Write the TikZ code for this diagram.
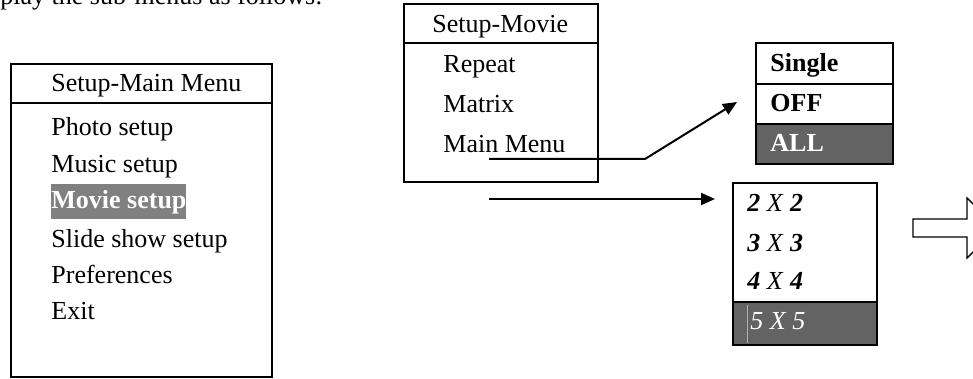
\documentclass[tikz,border=0pt]{standalone}
\usepackage{fontspec}
\setmainfont{Liberation Serif}
\usepackage{xcolor}
\definecolor{Col1}{RGB}{128,128,128}
\definecolor{Col2}{RGB}{99,99,99}
\definecolor{Col3}{RGB}{175,175,175}
\usepackage{tikz}
\usetikzlibrary{arrows.meta}
\tikzstyle{Box}=[draw=black,line width=1pt]
\tikzstyle{Item}=[anchor=base west,inner sep=0pt,font=\fontsize{13pt}{15pt}\selectfont]
\tikzstyle{ItemHi}=[Item,fill=Col1,text=white,text height=12.5pt,text depth=5pt,
font=\fontsize{13pt}{15pt}\selectfont\bfseries]
\tikzstyle{Edge}=[draw=black,line width=1pt,-{Triangle[length=7pt,width=6pt]}]
\tikzstyle{OpenArrow}=[draw=black,line width=0.7pt,fill=white,line join=miter]
\newcommand{\Mx}[1]{\textbf{\textit{#1}} \textit{X} \textbf{\textit{#1}}}

\begin{document}
\begin{tikzpicture}[x=0.5pt,y=-0.5pt]
        \useasboundingbox(0,0)rectangle(973,379);
        \node[Item](intro)at(0,5){play the sub-menus as follows:};
        % main menu
        \draw[Box](11,64)rectangle(272,377);
        \draw[Box](11,103)--(272,103);
        \node[Item](mhead)at(51,92){Setup-Main Menu};
        \node[Item](photo)at(51,136){Photo setup};
        \node[Item](music)at(51,173){Music setup};
        \node[ItemHi](movie)at(51,209){Movie setup};
        \node[Item](slide)at(51,247){Slide show setup};
        \node[Item](pref)at(51,283){Preferences};
        \node[Item](exit)at(51,319){Exit};
        % movie menu
        \draw[Box](404,4)rectangle(598,182);
        \draw[Box](404,43)--(598,43);
        \node[Item](vhead)at(432,33){Setup-Movie};
        \node[Item](repeat)at(443,73){Repeat};
        \node[Item](matrix)at(443,113){Matrix};
        \node[Item](back)at(443,153){Main Menu};
        % repeat choices
        \fill[Col2](756,124)rectangle(893,164);
        \draw[Box](756,43)rectangle(893,164);
        \draw[Box](756,84)--(893,84);
        \draw[Box](756,124)--(893,124);
        \node[Item](single)at(770,72){\textbf{Single}};
        \node[Item](off)at(770,112){\textbf{OFF}};
        \node[Item,text=white](all)at(770,152){\textbf{ALL}};
        % matrix choices
        \fill[Col2](733,302)rectangle(877,345);
        \draw[Box](733,183)rectangle(877,345);
        \draw[Box](733,302)--(877,302);
        \node[Item](m2)at(747,212){\Mx{2}};
        \node[Item](m3)at(747,251){\Mx{3}};
        \node[Item](m4)at(747,289){\Mx{4}};
        \node[Item,text=white](m5)at(750,329){\textit{5 X 5}};
        \draw[Col3,line width=0.4pt](747,305)--(747,343);
        % arrows
        \coordinate(a1)at(489,159);
        \coordinate(a2)at(645,159);
        \coordinate(a3)at(737,102);
        \draw[Edge](a1)--(a2)--(a3);
        \coordinate(b1)at(489,199);
        \coordinate(b2)at(715,199);
        \draw[Edge](b1)--(b2);
        \draw[OpenArrow](913,219)--(967,219)--(967,198)--(998,228)--(967,258)
            --(967,237)--(913,237)--cycle;
    \end{tikzpicture}
\end{document}
